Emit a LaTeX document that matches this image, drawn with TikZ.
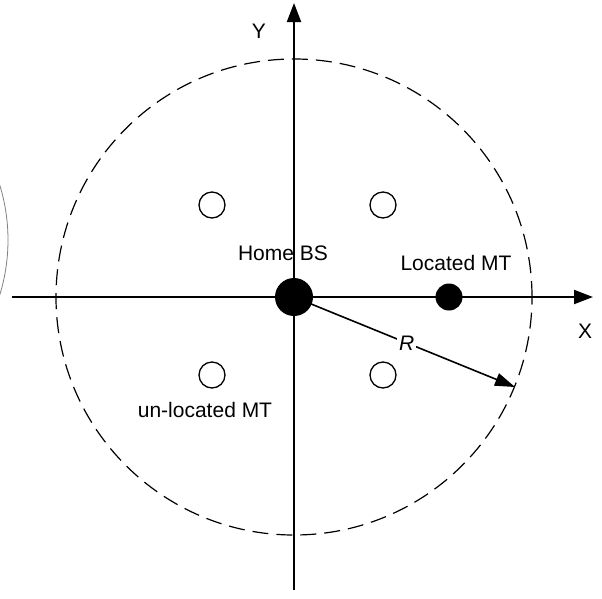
\documentclass[tikz,border=0pt]{standalone}
\usepackage{fontspec}
\setmainfont{Liberation Sans}
\usetikzlibrary{arrows.meta}
\begin{document}
\begin{tikzpicture}[x=1pt,y=-1pt,
    axis/.style={line width=2pt,-{Triangle[length=19pt,width=14pt]}},
    cellrange/.style={line width=1.2pt,dash pattern=on 16pt off 8pt},
    bsdot/.style={circle,fill=black,inner sep=0pt,minimum size=38pt},
    mtdot/.style={circle,fill=black,inner sep=0pt,minimum size=27pt},
    mtring/.style={circle,draw=black,line width=1.3pt,inner sep=0pt,minimum size=26pt},
    lbl/.style={inner sep=0pt,font=\fontsize{21}{25}\selectfont},
    radiusline/.style={line width=1.6pt,-{Triangle[length=20pt,width=13pt]}}]
  \useasboundingbox (0,0) rectangle (602,598);

  % neighbouring cell edge, cut by the frame
  \begin{scope}
    \clip (0,0) rectangle (602,598);
    \draw[gray,line width=0.8pt] (-178,240) circle[radius=186pt];
  \end{scope}

  % coverage of the home cell
  \draw[cellrange] (294,297) circle[radius=238pt];

  % axes
  \coordinate (xstart) at (12,297);
  \coordinate (xend) at (593,297);
  \coordinate (ystart) at (294,590);
  \coordinate (yend) at (294,3);
  \draw[axis] (xstart) -- (xend);
  \draw[axis] (ystart) -- (yend);
  \node[lbl] (xl) at (585,331) {X};
  \node[lbl] (yl) at (259,31) {Y};

  % base station and terminals
  \node[bsdot] (bs) at (294,297) {};
  \node[mtdot] (mt) at (449,297) {};
  \node[mtring] (u1) at (212,205) {};
  \node[mtring] (u2) at (383,205) {};
  \node[mtring] (u3) at (212,375) {};
  \node[mtring] (u4) at (383,375) {};

  \node[lbl] (bsl) at (283,253) {Home BS};
  \node[lbl] (mtl) at (456,263) {Located MT};
  \node[lbl] (ul) at (205,410) {un-located MT};

  % cell radius
  \coordinate (rend) at (515,387);
  \draw[radiusline] (bs.center) -- node[lbl,fill=white,inner sep=2pt,pos=0.51] (rl) {\textit{R}} (rend);
\end{tikzpicture}
\end{document}
